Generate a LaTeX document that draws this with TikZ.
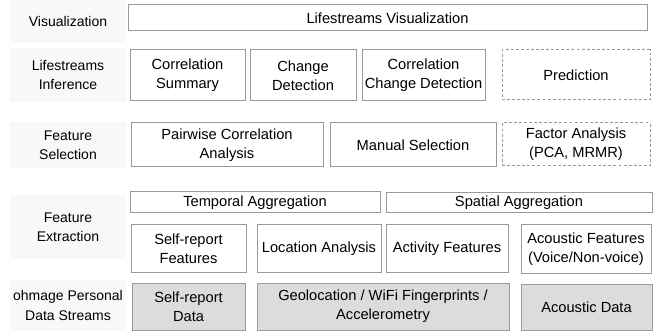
\documentclass[tikz,border=0pt]{standalone}
\usepackage{fontspec}
\setmainfont{Liberation Sans}
\definecolor{edge}{HTML}{9A9A9A}
\definecolor{datafill}{HTML}{DCDCDC}
\definecolor{labelbg}{HTML}{F8F8F8}
\tikzset{
  blk/.style={draw=edge, line width=0.75pt, inner sep=0pt, outer sep=0pt,
    align=center, font=\fontsize{11}{14.5}\selectfont, text=black},
  planned/.style={blk, dashed, dash pattern=on 2.2pt off 1.6pt},
  datablk/.style={blk, fill=datafill},
  layerlabel/.style={fill=labelbg, inner sep=0pt, outer sep=0pt,
    align=center, font=\fontsize{10.5}{14.5}\selectfont, text=black},
}
% \blk{name}{x1}{y1}{x2}{y2}{style}{text}, coordinates in pixels
\newcommand\blk[7]{%
  \node[#6, minimum width={(#4-#2)*0.75pt}, minimum height={(#5-#3)*0.75pt}]
    (#1) at ({(#2+#4)/2},{(#3+#5)/2}) {#7};}
\begin{document}
\begin{tikzpicture}[x=0.75pt, y=-0.75pt]
\useasboundingbox (0,0) rectangle (656,331);

% layer names
\blk{lViz}{10}{0}{126}{43}{layerlabel}{Visualization}
\blk{lInf}{10}{48}{126}{102}{layerlabel}{Lifestreams\\Inference}
\blk{lSel}{10}{122}{126}{168}{layerlabel}{Feature\\Selection}
\blk{lExt}{10}{195}{126}{259}{layerlabel}{Feature\\Extraction}
\blk{lDat}{10}{280}{126}{331}{layerlabel}{ohmage Personal\\Data Streams}

% visualization
\blk{viz}{128}{5}{647}{31}{blk}{Lifestreams Visualization}

% inference
\blk{corrSum}{130}{50}{245}{101}{blk}{Correlation\\Summary}
\blk{chgDet}{250}{50}{356}{101}{blk}{Change\\Detection}
\blk{corrChg}{362}{50}{485}{101}{blk}{Correlation\\Change Detection}
\blk{pred}{502}{50}{650}{100}{planned}{Prediction}

% feature selection
\blk{pairCorr}{131}{123}{323}{167}{blk}{Pairwise Correlation\\Analysis}
\blk{manSel}{330}{123}{496}{167}{blk}{Manual Selection}
\blk{factor}{502}{123}{650}{166}{planned}{Factor Analysis\\(PCA, MRMR)}

% feature extraction
\blk{tempAgg}{130}{192}{380}{213}{blk}{Temporal Aggregation}
\blk{spatAgg}{386}{193}{652}{213}{blk}{Spatial Aggregation}
\blk{srFeat}{131}{225}{246}{272}{blk}{Self-report\\Features}
\blk{locAn}{257}{225}{381}{272}{blk}{Location Analysis}
\blk{actFeat}{386}{225}{508}{272}{blk}{Activity Features}
\blk{acFeat}{521}{225}{651}{273}{blk}{Acoustic Features\\(Voice/Non-voice)}

% data streams
\blk{srData}{132}{283}{245}{330}{datablk}{Self-report\\Data}
\blk{geoData}{257}{283}{509}{330}{datablk}{Geolocation / WiFi Fingerprints /\\Accelerometry}
\blk{acData}{521}{284}{652}{330}{datablk}{Acoustic Data}
\end{tikzpicture}
\end{document}
